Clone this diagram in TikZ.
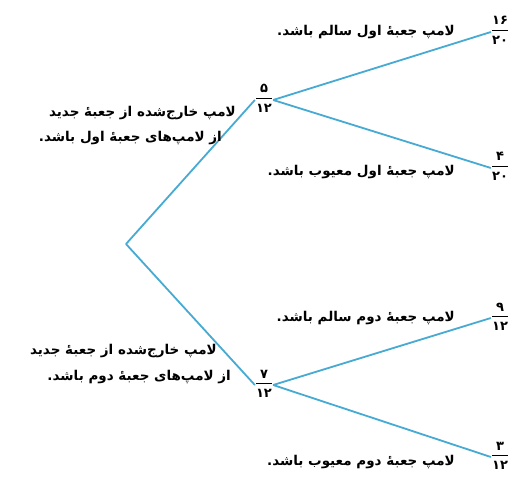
\documentclass[tikz,border=0pt]{standalone}
\usepackage{fontspec}
\TeXXeTstate=1
\newfontfamily\fa[Script=Arabic]{DejaVu Sans}
\definecolor{branchblue}{RGB}{70,170,210}
\tikzset{
  branch/.style={draw=branchblue, line width=1.8pt},
  lbl/.style={anchor=east, inner sep=0pt, font=\fa\bfseries\fontsize{13.5}{16}\selectfont},
  fracnode/.style={inner sep=1pt, font=\fa\bfseries\fontsize{13}{14}\selectfont},
}
\newcommand\rtltext[1]{\beginR #1\endR}
\newcommand\pfrac[2]{\setlength{\tabcolsep}{0pt}\renewcommand{\arraystretch}{1.0}\begin{tabular}{c}#1\\[1pt]\hline\rule{0pt}{14pt}#2\end{tabular}}
\begin{document}
\begin{tikzpicture}[x=1pt,y=-1pt]
\useasboundingbox (0,0) rectangle (519,478);
\coordinate (root) at (126,244);
\node[fracnode] (a) at (264,100) {\pfrac{\,۵\,}{۱۲}};
\node[fracnode] (b) at (264,385) {\pfrac{\,۷\,}{۱۲}};
\node[fracnode] (a1) at (500,32) {\pfrac{۱۶}{۲۰}};
\node[fracnode] (a2) at (500,168) {\pfrac{\,۴\,}{۲۰}};
\node[fracnode] (b1) at (500,318) {\pfrac{\,۹\,}{۱۲}};
\node[fracnode] (b2) at (500,457) {\pfrac{\,۳\,}{۱۲}};
\draw[branch] (root) -- (a.west);
\draw[branch] (root) -- (b.west);
\draw[branch] (a.east) -- (a1.west);
\draw[branch] (a.east) -- (a2.west);
\draw[branch] (b.east) -- (b1.west);
\draw[branch] (b.east) -- (b2.west);
\node[lbl] (t1a) at (236,113) {\rtltext{لامپ خارج‌شده از جعبهٔ جدید}};
\node[lbl] (t1b) at (222,138) {\rtltext{از لامپ‌های جعبهٔ اول باشد.}};
\node[lbl] (t2a) at (217,351) {\rtltext{لامپ خارج‌شده از جعبهٔ جدید}};
\node[lbl] (t2b) at (231,377) {\rtltext{از لامپ‌های جعبهٔ دوم باشد.}};
\node[lbl] (t11) at (455,32) {\rtltext{لامپ جعبهٔ اول سالم باشد.}};
\node[lbl] (t12) at (455,172) {\rtltext{لامپ جعبهٔ اول معیوب باشد.}};
\node[lbl] (t21) at (455,318) {\rtltext{لامپ جعبهٔ دوم سالم باشد.}};
\node[lbl] (t22) at (455,462) {\rtltext{لامپ جعبهٔ دوم معیوب باشد.}};
\end{tikzpicture}
\end{document}
